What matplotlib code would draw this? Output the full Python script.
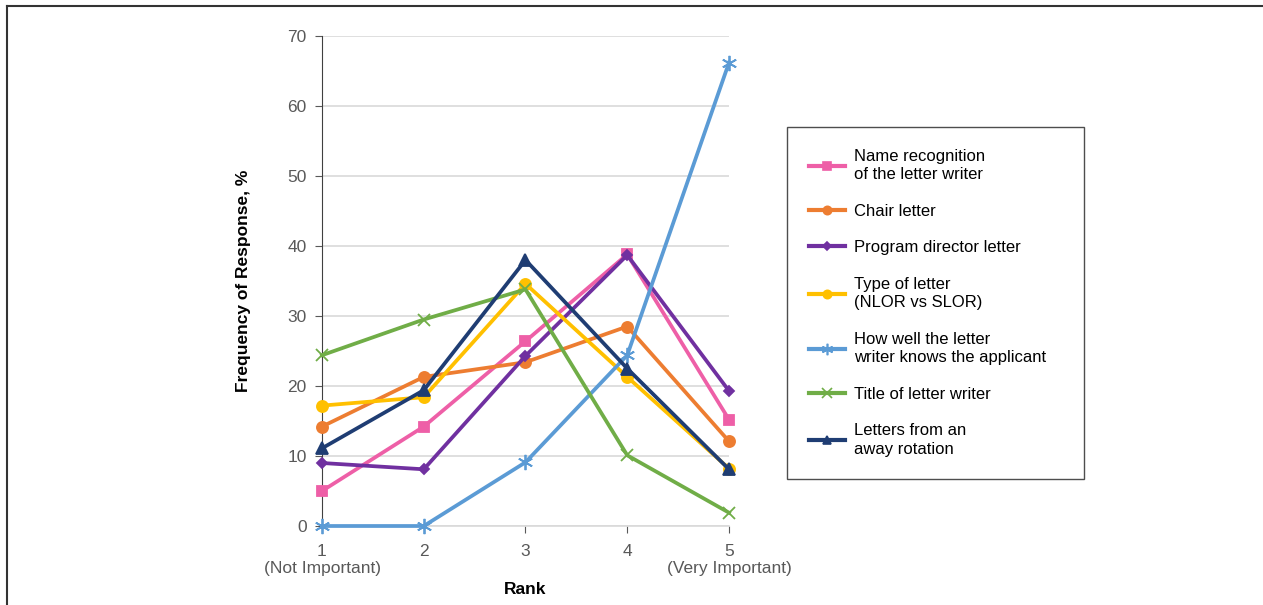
import matplotlib.pyplot as plt
from matplotlib.lines import Line2D

plt.rcParams['font.family'] = ['Liberation Sans', 'DejaVu Sans']

ranks = [1, 2, 3, 4, 5]
rank_labels = ['1\n(Not Important)', '2', '3', '4', '5\n(Very Important)']

name_recognition = [5.0, 14.2, 26.4, 38.8, 15.2]
chair_letter = [14.2, 21.3, 23.4, 28.5, 12.1]
program_director = [9.0, 8.1, 24.3, 38.7, 19.3]
type_of_letter = [17.2, 18.4, 34.6, 21.3, 8.2]
how_well = [0.0, 0.0, 9.1, 24.4, 66.2]
title_of_writer = [24.4, 29.5, 33.8, 10.1, 1.9]
away_rotation = [11.1, 19.4, 38.0, 22.5, 8.1]

series = [
    ('Name recognition\nof the letter writer', name_recognition, '#EE5FA7', 's', 7),
    ('Chair letter', chair_letter, '#ED7D31', 'o', 8),
    ('Program director letter', program_director, '#7030A0', 'D', 5.5),
    ('Type of letter\n(NLOR vs SLOR)', type_of_letter, '#FFC000', 'o', 8),
    ('How well the letter\nwriter knows the applicant', how_well, '#5B9BD5', (6, 2, 0), 11),
    ('Title of letter writer', title_of_writer, '#70AD47', 'x', 9),
    ('Letters from an\naway rotation', away_rotation, '#1F3D73', '^', 8),
]

fig = plt.figure(figsize=(12.63, 6.05), dpi=100)
ax = fig.add_axes([322 / 1263, 1 - 526 / 605, 407 / 1263, 490 / 605])

handles = []
for label, vals, color, marker, ms in series:
    ax.plot(ranks, vals, color=color, lw=2.7, marker=marker, ms=ms,
            mew=1.3, clip_on=False, zorder=3)
    handles.append(Line2D([], [], color=color, lw=3, marker=marker,
                          ms=ms * 0.75, mew=1.2, label=label))

ax.set_xlim(1, 5)
ax.set_ylim(0, 70)
ax.set_yticks(range(0, 71, 10))
ax.set_xticks(ranks)
ax.set_xticklabels(rank_labels)
ax.yaxis.grid(True, color='#d9d9d9', lw=1.2)
ax.set_axisbelow(True)

for s in ['top', 'right']:
    ax.spines[s].set_visible(False)
ax.spines['left'].set_color('#404040')
ax.spines['bottom'].set_color('#d9d9d9')
ax.spines['bottom'].set_linewidth(1.2)
ax.tick_params(axis='both', colors='#595959', labelsize=12.5, length=5)
ax.tick_params(axis='x', pad=8)
ax.tick_params(axis='y', pad=6)

ax.set_xlabel('Rank', fontsize=12.5, fontweight='bold', labelpad=4)
ax.set_ylabel('Frequency of Response, %', fontsize=12.5, fontweight='bold', labelpad=26)

leg = fig.legend(handles=handles, loc='upper left',
                 bbox_to_anchor=(787 / 1263, 1 - 127 / 605, 297 / 1263, 0.0),
                 mode='expand', fontsize=12, frameon=True, fancybox=False,
                 handlelength=2.2, handletextpad=0.5, labelspacing=1.29,
                 borderpad=1.3, borderaxespad=0.0)
for t in leg.get_texts():
    t.set_linespacing(1.3)
leg.get_frame().set_edgecolor('#222222')
leg.get_frame().set_linewidth(1.0)

# outer border of the figure panel
fig.add_artist(Line2D([7 / 1263, 1], [1 - 6 / 605, 1 - 6 / 605], color='#333333', lw=1.5))
fig.add_artist(Line2D([7 / 1263, 7 / 1263], [0, 1 - 6 / 605], color='#333333', lw=1.5))

fig.savefig('out.png', dpi=100)
